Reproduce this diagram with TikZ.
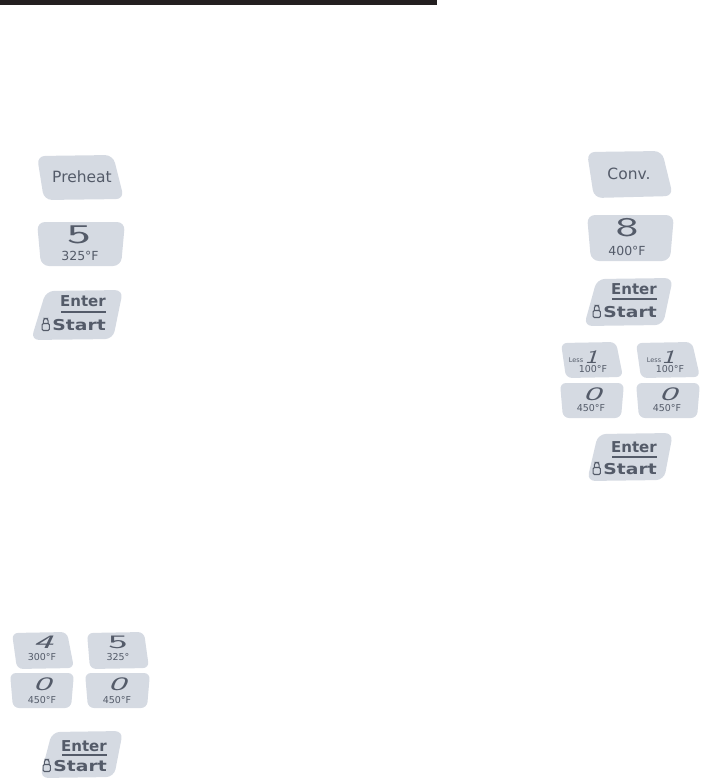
\documentclass[tikz,border=0pt]{standalone}
\usepackage{fontspec}
\setmainfont{DejaVu Sans}
\definecolor{keyfill}{RGB}{213,218,226}
\definecolor{keyink}{RGB}{84,91,105}
\definecolor{barcol}{RGB}{35,31,32}
\tikzset{
  keybg/.style={fill=keyfill, rounded corners=8pt},
  keybgs/.style={fill=keyfill, rounded corners=6pt},
  keytxt/.style={text=keyink, inner sep=0pt, font=\fontsize{15.5}{16}\selectfont},
  keybold/.style={text=keyink, inner sep=0pt, anchor=east, font=\fontsize{15}{15}\selectfont\bfseries},
  keysmall/.style={text=keyink, inner sep=0pt, font=\fontsize{12.5}{13}\selectfont},
  keytiny/.style={text=keyink, inner sep=0pt, font=\fontsize{9.5}{10}\selectfont},
  keyless/.style={text=keyink, inner sep=0pt, font=\fontsize{6.5}{7}\selectfont},
  keydig/.style={text=keyink, inner sep=0pt, font=\sffamily\fontsize{27}{27}\selectfont},
  keydigs/.style={text=keyink, inner sep=0pt, font=\sffamily\itshape\fontsize{19}{19}\selectfont},
  keydigu/.style={text=keyink, inner sep=0pt, font=\sffamily\fontsize{19}{19}\selectfont},
  keyrule/.style={draw=keyink, line width=1.1pt},
  lockicon/.pic={
    \draw[keyink, line width=1.1pt, rounded corners=1.2pt] (-3.6,-1.5) rectangle (3.6,5.5);
    \draw[keyink, line width=1.1pt, rounded corners=2.5pt] (-2.4,-1.5) -- (-2.4,-6.5) -- (2.4,-6.5) -- (2.4,-1.5);
  }
}
\newcommand\startword{\scalebox{1.25}[1]{Start}}
\begin{document}
\begin{tikzpicture}[x=1pt,y=-1pt]
\path[use as bounding box] (0,0) rectangle (702,779);
\fill[barcol] (0,0) rectangle (437,4.5);

% ---------- left column ----------
\path[keybg] (37,156) -- (113,155) -- (124,199) -- (44,200) -- cycle;
\node[keytxt] (preheat) at (82,177) {Preheat};

\path[keybg] (37,222) -- (125,222) -- (121,266) -- (41,266) -- cycle;
\node[keydig] (dfive) at (79,235) {\scalebox{1.9}[1]{5}};
\node[keysmall] (tfive) at (80,256) {325°F};

\path[keybg] (46,291) -- (123,290) -- (113,339) -- (31,340) -- cycle;
\node[keybold] (enterA) at (106,301) {Enter};
\draw[keyrule] (61,312) -- (106,312);
\node[keybold] (startA) at (106,325) {\startword};
\pic at ([xshift=-6.5pt]startA.west) {lockicon};

% ---------- right column ----------
\path[keybg] (587,152) -- (662,151) -- (673,196) -- (594,198) -- cycle;
\node[keytxt] (conv) at (629,174) {Conv.};

\path[keybg] (587,215) -- (674,215) -- (670,261) -- (591,261) -- cycle;
\node[keydig] (deight) at (627,228) {\scalebox{1.8}[1]{8}};
\node[keysmall] (teight) at (627,251) {400°F};

\path[keybg] (597,279) -- (673,278) -- (663,325) -- (584,326) -- cycle;
\node[keybold] (enterB) at (657,289) {Enter};
\draw[keyrule] (612,299) -- (657,299);
\node[keybold] (startB) at (657,312) {\startword};
\pic at ([xshift=-6.5pt]startB.west) {lockicon};

\path[keybgs] (561,343) -- (616,342) -- (623,377) -- (566,378) -- cycle;
\node[keyless] (lessA) at (576,360) {Less};
\node[keydigs] (oneA) at (591,357) {\scalebox{1.5}[1]{1}};
\node[keytiny] (thundA) at (593,369) {100°F};

\path[keybgs] (636,343) -- (692,342) -- (700,377) -- (641,378) -- cycle;
\node[keyless] (lessB) at (654,360) {Less};
\node[keydigs] (oneB) at (668,357) {\scalebox{1.5}[1]{1}};
\node[keytiny] (thundB) at (670,369) {100°F};

\path[keybgs] (560,383) -- (624,383) -- (621,418) -- (563,418) -- cycle;
\node[keydigs] (zeroA) at (592,394) {\scalebox{2}[1]{0}};
\node[keytiny] (ffA) at (591,408) {450°F};

\path[keybgs] (636,383) -- (700,383) -- (697,418) -- (639,418) -- cycle;
\node[keydigs] (zeroB) at (668,394) {\scalebox{2}[1]{0}};
\node[keytiny] (ffB) at (667,408) {450°F};

\path[keybg] (598,434) -- (673,433) -- (664,480) -- (587,481) -- cycle;
\node[keybold] (enterC) at (657,447) {Enter};
\draw[keyrule] (612,457) -- (657,457);
\node[keybold] (startC) at (657,469) {\startword};
\pic at ([xshift=-6.5pt]startC.west) {lockicon};

% ---------- bottom left ----------
\path[keybgs] (12,633) -- (67,632) -- (74,668) -- (17,669) -- cycle;
\node[keydigs] (dfour) at (43,642) {\scalebox{2.2}[1]{4}};
\node[keytiny] (tfour) at (42,657) {300°F};

\path[keybgs] (87,633) -- (144,632) -- (149,668) -- (90,669) -- cycle;
\node[keydigu] (dfiveB) at (118,642) {\scalebox{2.2}[1]{5}};
\node[keytiny] (tfiveB) at (118,657) {325°};

\path[keybgs] (10,673) -- (74,673) -- (71,708) -- (13,708) -- cycle;
\node[keydigs] (zeroC) at (42,684) {\scalebox{2}[1]{0}};
\node[keytiny] (ffC) at (42,700) {450°F};

\path[keybgs] (85,673) -- (150,673) -- (147,708) -- (88,708) -- cycle;
\node[keydigs] (zeroD) at (117,684) {\scalebox{2}[1]{0}};
\node[keytiny] (ffD) at (117,700) {450°F};

\path[keybg] (52,732) -- (123,731) -- (114,777) -- (40,778) -- cycle;
\node[keybold] (enterD) at (107,746) {Enter};
\draw[keyrule] (62,755) -- (107,755);
\node[keybold] (startD) at (107,766) {\startword};
\pic at ([xshift=-6.5pt]startD.west) {lockicon};
\end{tikzpicture}
\end{document}
